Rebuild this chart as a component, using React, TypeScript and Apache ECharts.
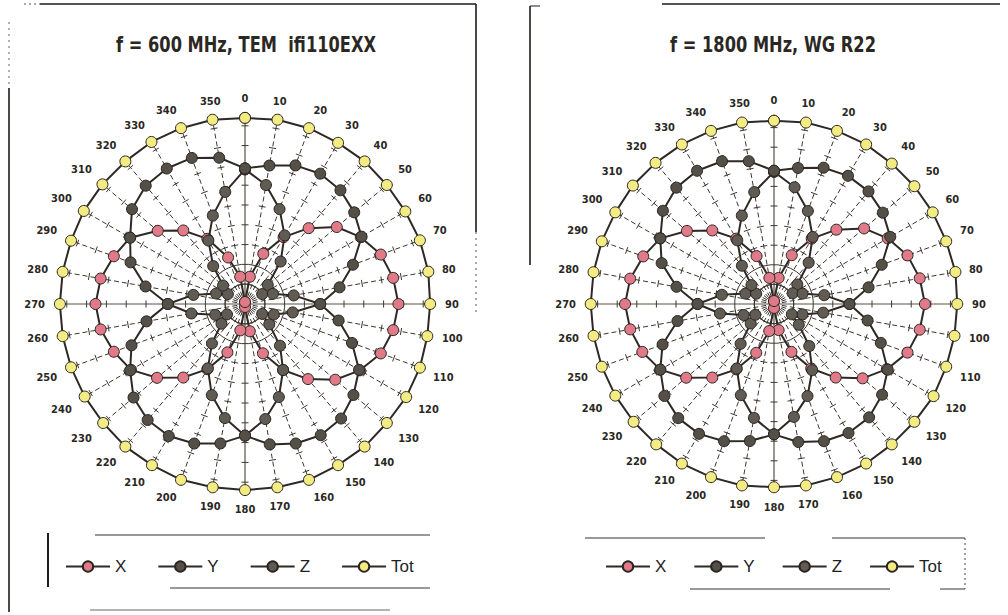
import React, { useEffect, useRef } from "react";
import * as echarts from "echarts";

const ANGLES = [0, 10, 20, 30, 40, 50, 60, 70, 80, 90, 100, 110, 120, 130, 140, 150, 160, 170, 180, 190, 200, 210, 220, 230, 240, 250, 260, 270, 280, 290, 300, 310, 320, 330, 340, 350];

// Left chart: f = 600 MHz, TEM ifi110EXX
const X_600 = [2, 28, 54, 78, 100, 121, 135, 146, 152, 155, 152, 146, 134, 119, 99, 77, 53, 28, 3, 27, 52, 76, 97, 116, 133, 141, 148, 151, 148, 141, 134, 115, 97, 76, 50, 28];
const Y_600 = [137, 142, 149, 152, 150, 144, 136, 116, 97, 76, 96, 115, 133, 143, 151, 153, 150, 144, 133, 143, 150, 154, 153, 147, 134, 122, 101, 78, 102, 123, 134, 149, 156, 158, 157, 150];
const Z_600 = [136, 122, 102, 80, 56, 30, 20, 30, 50, 76, 49, 31, 20, 32, 55, 77, 100, 118, 133, 117, 98, 75, 52, 31, 21, 32, 55, 78, 53, 31, 20, 29, 50, 74, 95, 115];
const TOT_600 = [188, 189, 189, 188, 188, 187, 187, 188, 188, 187, 187, 188, 188, 187, 188, 188, 189, 188, 188, 188, 189, 188, 188, 187, 187, 187, 187, 187, 187, 187, 188, 188, 188, 189, 189, 189];

// Right chart: f = 1800 MHz, WG R22
const X_1800 = [3, 27, 53, 77, 99, 120, 134, 145, 151, 154, 151, 145, 133, 118, 98, 76, 52, 27, 4, 28, 53, 77, 98, 117, 134, 143, 149, 152, 149, 142, 134, 116, 98, 77, 52, 27];
const Y_1800 = [136, 141, 148, 151, 150, 145, 137, 117, 98, 77, 97, 116, 134, 144, 151, 152, 149, 143, 133, 142, 149, 153, 152, 146, 134, 121, 100, 78, 101, 122, 134, 148, 155, 157, 155, 148];
const Z_1800 = [135, 121, 101, 79, 55, 31, 22, 31, 52, 77, 51, 31, 21, 33, 56, 78, 100, 117, 133, 118, 99, 76, 53, 31, 22, 33, 56, 78, 54, 31, 21, 30, 51, 75, 96, 116];
const TOT_1800 = [187, 188, 188, 188, 187, 187, 187, 187, 188, 187, 187, 187, 188, 187, 187, 188, 188, 188, 187, 188, 188, 188, 187, 187, 187, 187, 187, 187, 187, 187, 187, 188, 188, 188, 188, 188];

const TITLES = ["f = 600 MHz, TEM  ifi110EXX", "f = 1800 MHz, WG R22"];
const LEGEND_NAMES = ["X", "Y", "Z", "Tot"];
const SPOKE_TICKS = [20, 40, 60, 80, 100, 120, 140, 160, 180];
const SPOKE_END = 188;
const RADIUS_MAX = 200;

const LINE = "#2e2924";
const COLORS: Record<string, string> = { X: "#e07a89", Y: "#545047", Z: "#605b53", Tot: "#f3ec84" };
const NARROW = "'Liberation Sans Narrow', 'DejaVu Sans Condensed', 'Arial Narrow', sans-serif";
const SANS = "'Liberation Sans', Arial, sans-serif";

const loop = (vals: number[]) => ANGLES.map((a, i) => [vals[i], a]).concat([[vals[0], 360]]);

function lineSeries(name: string, vals: number[], polarIndex: number, z: number) {
  return {
    name,
    type: "line",
    coordinateSystem: "polar",
    polarIndex,
    data: loop(vals),
    symbol: "circle",
    symbolSize: 11,
    showSymbol: true,
    z,
    lineStyle: { color: LINE, width: 2 },
    itemStyle: { color: COLORS[name], borderColor: "#2a2520", borderWidth: 1 },
    emphasis: { disabled: true },
  };
}

function spokeSeries(polarIndex: number) {
  return {
    type: "custom",
    coordinateSystem: "polar",
    polarIndex,
    silent: true,
    z: 1,
    encode: { radius: 0, angle: 1 },
    data: ANGLES.map((a) => [SPOKE_END, a]),
    renderItem: (_p: any, api: any) => {
      const r = api.value(0);
      const a = api.value(1);
      const c = api.coord([0, a]);
      const e = api.coord([r, a]);
      const dx = e[0] - c[0];
      const dy = e[1] - c[1];
      const len = Math.hypot(dx, dy) || 1;
      const px = -dy / len;
      const py = dx / len;
      const solid = a % 90 === 0;
      const children: any[] = [
        {
          type: "line",
          shape: { x1: c[0], y1: c[1], x2: e[0], y2: e[1] },
          style: { stroke: solid ? "#5a5045" : "#3d3730", lineWidth: solid ? 1.2 : 1, lineDash: solid ? null : [5, 3] },
        },
      ];
      SPOKE_TICKS.forEach((t) => {
        const p = api.coord([t, a]);
        children.push({
          type: "line",
          shape: { x1: p[0] - px * 3.5, y1: p[1] - py * 3.5, x2: p[0] + px * 3.5, y2: p[1] + py * 3.5 },
          style: { stroke: "#3d3730", lineWidth: 1 },
        });
      });
      return { type: "group", children };
    },
  };
}

function angleAxis(polarIndex: number) {
  return {
    polarIndex,
    type: "value",
    min: 0,
    max: 360,
    interval: 10,
    startAngle: 90,
    clockwise: true,
    axisLine: { show: false },
    axisTick: { show: false },
    splitLine: { show: false },
    axisLabel: {
      margin: 2,
      formatter: (v: number) => (v === 360 ? "" : String(v)),
      fontSize: 11,
      fontWeight: "bold",
      color: "#2a2723",
      fontFamily: NARROW,
    },
  };
}

function radiusAxis(polarIndex: number) {
  return {
    polarIndex,
    type: "value",
    min: 0,
    max: RADIUS_MAX,
    axisLine: { show: false },
    axisTick: { show: false },
    axisLabel: { show: false },
    splitLine: { show: false },
  };
}

const ln = (x1: number, y1: number, x2: number, y2: number, w = 1.3, color = "#1e1b18", dash?: number[]) => ({
  type: "line",
  silent: true,
  shape: { x1, y1, x2, y2 },
  style: { stroke: color, lineWidth: w, lineDash: dash || null },
});

const title = (text: string, x: number) => ({
  type: "text",
  x,
  y: 45,
  scaleX: 0.86,
  style: {
    text,
    align: "center",
    verticalAlign: "middle",
    textAlign: "center",
    textVerticalAlign: "middle",
    fontSize: 21,
    fontWeight: "bold",
    fontFamily: NARROW,
    fill: "#2b2824",
  },
});

export default function App() {
  const ref = useRef<HTMLDivElement>(null);
  useEffect(() => {
    if (!ref.current) return;
    const chart = echarts.init(ref.current, null, { renderer: "svg" });
    const legendCommon = {
      data: LEGEND_NAMES,
      orient: "horizontal",
      itemWidth: 44,
      itemHeight: 13,
      selectedMode: false,
      textStyle: { fontSize: 17, color: "#1e1e1e", fontFamily: SANS },
    };
    chart.setOption({
      animation: false,
      backgroundColor: "#ffffff",
      polar: [
        { center: [245, 304], radius: 198 },
        { center: [774, 304], radius: 196 },
      ],
      angleAxis: [angleAxis(0), angleAxis(1)],
      radiusAxis: [radiusAxis(0), radiusAxis(1)],
      legend: [
        { ...legendCommon, left: 60, top: 553, itemGap: 31 },
        { ...legendCommon, left: 600, top: 553, itemGap: 27 },
      ],
      series: [
        spokeSeries(0),
        lineSeries("Tot", TOT_600, 0, 2),
        lineSeries("X", X_600, 0, 3),
        lineSeries("Z", Z_600, 0, 4),
        lineSeries("Y", Y_600, 0, 5),
        spokeSeries(1),
        lineSeries("Tot", TOT_1800, 1, 2),
        lineSeries("X", X_1800, 1, 3),
        lineSeries("Z", Z_1800, 1, 4),
        lineSeries("Y", Y_1800, 1, 5),
      ],
      graphic: [
        title(TITLES[0], 246),
        title(TITLES[1], 773),
        // left panel frame
        ln(40, 4, 476, 4, 1.4),
        ln(24, 4, 40, 4, 1, "#555", [2, 3]),
        ln(476, 4, 476, 232, 1.6),
        ln(476, 232, 476, 312, 1, "#555", [2, 4]),
        ln(9, 22, 9, 88, 1, "#666", [2, 4]),
        ln(9, 88, 9, 612, 1.6),
        ln(90, 610, 390, 610, 1, "#666"),
        // left legend box
        ln(95, 535, 430, 535, 1, "#333"),
        ln(170, 588, 430, 588, 1, "#333"),
        ln(48, 533, 48, 587, 2),
        // right panel frame
        ln(662, 4, 1000, 4, 1.4),
        ln(530, 6, 530, 265, 1.6),
        ln(530, 6, 540, 6, 1),
        // right legend box
        ln(585, 538, 765, 538, 1, "#333"),
        ln(832, 538, 965, 538, 1, "#333"),
        ln(690, 589, 890, 589, 1, "#333"),
        ln(940, 589, 965, 589, 1, "#333"),
        ln(965, 538, 965, 589, 1, "#444", [2, 3]),
      ],
    });
    return () => chart.dispose();
  }, []);
  return (
    <div
      ref={ref}
      style={{ position: "fixed", left: 0, top: 0, width: 1008, height: 615, background: "#fff" }}
    />
  );
}
